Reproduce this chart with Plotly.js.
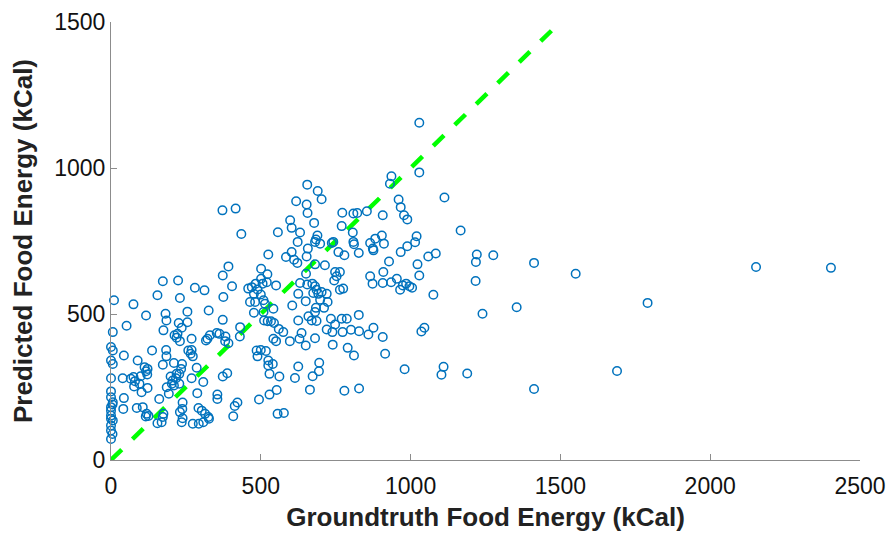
<!DOCTYPE html>
<html>
<head>
<meta charset="utf-8">
<script src="https://cdn.plot.ly/plotly-3.0.1.min.js"></script>
<style>
  html, body { margin: 0; padding: 0; background: #fff; }
  #chart { width: 889px; height: 535px; }
</style>
</head>
<body>
<div id="chart"></div>
<script>
// Groundtruth (x) and predicted (y) food energy, kCal
const groundtruth = [
  655,690,703,618,653,656,372,416,435,598,603,631,678,557,772,809,822,854,770,807,809,811,689,684,681,698,737,742,623,657,865,882,874,
  1029,1029,936,931,1113,960,967,907,978,989,1167,904,911,1020,1015,989,
  603,584,611,622,653,759,779,827,876,967,1059,1084,1221,1218,681,714,928,1023,748,764,753,745,865,873,909,907,935,954,965,974,985,996,1005,1029,1217,
  651,631,655,672,681,686,675,692,703,720,698,723,711,684,681,670,686,625,650,764,775,1076,605,659,625,827,734,748,770,787,720,739,773,801,828,876,859,907,1046,1036,
  575,636,629,597,650,681,740,790,811,915,695,694,625,673,614,980,1110,1103,1189,664,779,828,577,
  1276,1412,1551,1354,1240,1412,
  2153,2403,1791,1689,
  525,392,373,173,224,501,522,501,483,470,458,489,506,520,551,280,312,404,155,230,375,10,75,464,481,509,514,500,477,542,
  117,182,185,255,326,477,509,373,52,175,226,236,255,222,219,230,212,431,430,6,330,353,362,382,322,317,381,392,269,
  511,523,534,544,560,542,551,0,6,137,184,185,258,269,273,266,486,500,489,517,43,89,112,122,117,210,237,234,228,219,173,
  525,540,525,0,6,0,39,66,75,80,99,121,199,206,217,269,286,308,373,388,529,562,
  0,0,6,0,5,43,102,77,95,122,186,193,203,210,228,288,355,355,494,529,553,41,86,106,119,116,125,161,175,173,169,155,
  239,238,230,239,236,292,303,314,325,327,308,293,273,408,413,422,556,0,0,0,6,0,0,5,0
];
const predicted = [
  943,921,893,886,875,846,855,861,774,821,795,779,812,780,847,844,846,852,801,779,747,739,769,755,747,741,743,747,747,724,743,758,724,
  1155,985,972,946,899,892,866,838,838,824,786,769,741,766,746,732,
  712,695,686,675,697,712,701,709,718,712,697,707,704,678,670,667,680,670,644,644,629,615,629,604,644,606,609,621,583,598,604,595,590,632,613,
  638,606,601,604,595,583,572,569,575,569,549,541,521,521,507,478,476,569,544,583,587,566,529,492,478,497,484,464,484,484,447,438,438,446,441,453,430,421,453,440,
  438,435,415,407,392,417,395,384,358,364,333,304,320,287,281,311,319,292,296,241,237,245,161,
  701,675,638,523,501,243,
  661,658,538,305,
  704,663,632,612,615,655,636,621,604,592,587,584,604,609,598,590,581,595,564,555,558,547,533,541,541,547,535,567,569,518,
  495,501,478,508,512,504,507,480,460,444,469,453,472,432,419,407,427,455,423,438,427,435,432,423,415,409,407,400,415,
  478,475,475,469,449,415,407,387,375,375,377,355,375,377,355,364,375,377,355,373,358,341,318,312,304,332,329,312,295,295,326,
  341,329,324,341,329,280,280,278,284,270,287,293,286,272,280,280,316,267,286,297,295,286,
  235,215,198,181,190,212,232,252,261,247,249,227,261,255,261,229,224,209,207,224,240,175,178,181,158,149,151,209,158,147,129,126,
  197,175,164,143,129,178,169,158,147,141,129,124,124,150,185,197,158,169,152,141,135,118,101,89,72
];
// Identity reference line (y = x)
const lineX = [0, 1480];
const lineY = [0, 1480];
const xTicks = [0, 500, 1000, 1500, 2000, 2500];
const yTicks = [0, 500, 1000, 1500];

const traces = [
  {
    x: lineX, y: lineY, type: 'scatter', mode: 'lines',
    line: { color: '#00ff00', width: 4.5, dash: '15px,15px' },
    hoverinfo: 'skip', cliponaxis: false
  },
  {
    x: groundtruth, y: predicted, type: 'scatter', mode: 'markers',
    marker: { symbol: 'circle-open', size: 8.5, color: '#0072BD', line: { width: 1.5, color: '#0072BD' } },
    cliponaxis: false
  }
];

const tickFont = { family: '"Liberation Sans Narrow", "Liberation Sans", Arial, sans-serif', size: 23, color: '#111' };
const titleFont = { family: '"Liberation Sans", Arial, sans-serif', size: 26, color: '#222', weight: 'bold' };

const layout = {
  width: 889, height: 535,
  margin: { l: 111, r: 29, t: 22, b: 75 },
  paper_bgcolor: '#fff', plot_bgcolor: '#fff',
  showlegend: false,
  xaxis: {
    range: [0, 2500], tickvals: xTicks, ticktext: xTicks.map(String),
    showgrid: false, zeroline: false, showline: true, linecolor: '#8c8c8c', linewidth: 1,
    ticks: 'inside', ticklen: 6, tickcolor: '#8c8c8c', tickfont: tickFont, ticklabelstandoff: 5,
    title: { text: '<b>Groundtruth Food Energy (kCal)</b>', font: titleFont, standoff: 10 }
  },
  yaxis: {
    range: [0, 1500], tickvals: yTicks, ticktext: yTicks.map(String),
    showgrid: false, zeroline: false, showline: true, linecolor: '#8c8c8c', linewidth: 1,
    ticks: 'inside', ticklen: 6, tickcolor: '#8c8c8c', tickfont: tickFont,
    title: { text: '<b>Predicted Food Energy (kCal)</b>', font: titleFont, standoff: 14 }
  }
};

Plotly.newPlot('chart', traces, layout, { displayModeBar: false, staticPlot: true });
</script>
</body>
</html>
